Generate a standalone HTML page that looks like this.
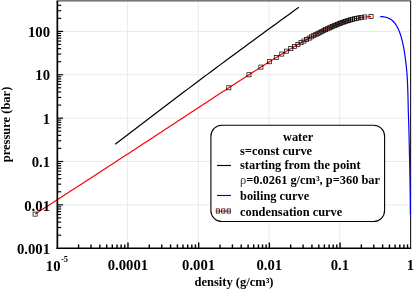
<!DOCTYPE html>
<html><head><meta charset="utf-8"><title>water</title>
<style>
html,body{margin:0;padding:0;background:#fff;}
body{width:415px;height:289px;overflow:hidden;position:relative;font-family:"Liberation Serif",serif;}
</style></head><body>
<svg width="415" height="289" viewBox="0 0 415 289" style="position:absolute;left:0;top:0;will-change:transform">
<g stroke="#eaeaea" stroke-width="1"><line x1="127.59" y1="1.00" x2="127.59" y2="248.20"/><line x1="198.28" y1="1.00" x2="198.28" y2="248.20"/><line x1="268.97" y1="1.00" x2="268.97" y2="248.20"/><line x1="339.66" y1="1.00" x2="339.66" y2="248.20"/><line x1="57.30" y1="204.84" x2="410.60" y2="204.84"/><line x1="57.30" y1="161.48" x2="410.60" y2="161.48"/><line x1="57.30" y1="118.12" x2="410.60" y2="118.12"/><line x1="57.30" y1="74.76" x2="410.60" y2="74.76"/><line x1="57.30" y1="31.40" x2="410.60" y2="31.40"/></g>
<rect x="56.5" y="0" width="354.6" height="1.6" fill="#777"/>
<g id="curves">
<path d="M115.20 144.30 L119.79 140.76 L124.38 137.23 L128.97 133.70 L133.56 130.18 L138.15 126.67 L142.74 123.16 L147.33 119.66 L151.92 116.16 L156.52 112.67 L161.11 109.18 L165.70 105.70 L170.29 102.23 L174.88 98.76 L179.47 95.30 L184.06 91.84 L188.65 88.39 L193.24 84.94 L197.83 81.50 L202.42 78.07 L207.01 74.64 L211.60 71.22 L216.19 67.80 L220.78 64.39 L225.37 60.98 L229.96 57.58 L234.55 54.19 L239.15 50.80 L243.74 47.42 L248.33 44.04 L252.92 40.67 L257.51 37.31 L262.10 33.95 L266.69 30.59 L271.28 27.25 L275.87 23.90 L280.46 20.57 L285.05 17.24 L289.64 13.91 L294.23 10.59 L298.82 7.28" fill="none" stroke="#000" stroke-width="1.2"/>
<path d="M35.11 214.10 L39.04 211.56 L42.91 209.06 L46.71 206.60 L50.46 204.18 L54.15 201.79 L57.79 199.44 L61.37 197.12 L64.89 194.84 L68.37 192.59 L71.79 190.37 L75.16 188.18 L78.48 186.03 L81.76 183.90 L84.98 181.81 L88.16 179.74 L91.29 177.71 L94.38 175.70 L97.42 173.72 L100.43 171.77 L103.38 169.84 L106.30 167.95 L109.18 166.07 L112.02 164.22 L114.81 162.40 L117.57 160.60 L120.30 158.83 L122.98 157.07 L125.63 155.34 L128.24 153.64 L130.82 151.95 L133.37 150.29 L135.88 148.65 L138.36 147.03 L140.81 145.43 L143.22 143.85 L145.61 142.29 L147.96 140.75 L150.28 139.23 L152.58 137.73 L154.84 136.24 L157.08 134.78 L159.29 133.33 L161.47 131.90 L163.63 130.49 L165.76 129.09 L167.86 127.71 L169.94 126.35 L172.00 125.00 L174.03 123.67 L176.03 122.36 L178.02 121.06 L179.98 119.77 L181.91 118.50 L183.83 117.25 L185.72 116.00 L187.59 114.78 L189.44 113.56 L191.27 112.36 L193.08 111.18 L194.87 110.00 L196.64 108.84 L198.39 107.69 L200.13 106.56 L201.84 105.44 L203.54 104.33 L205.21 103.23 L206.87 102.14 L208.52 101.06 L210.14 100.00 L211.75 98.95 L213.35 97.90 L214.92 96.87 L216.48 95.85 L218.03 94.84 L219.56 93.84 L221.08 92.85 L222.58 91.87 L224.06 90.90 L225.54 89.94 L227.00 88.99 L228.44 88.05 L229.87 87.12 L231.29 86.20 L232.70 85.28 L234.09 84.38 L235.47 83.48 L236.84 82.59 L238.19 81.72 L239.54 80.84 L240.87 79.98 L242.19 79.13 L243.50 78.28 L244.80 77.44 L246.09 76.61 L247.37 75.79 L248.63 74.97 L249.89 74.17 L251.14 73.37 L252.38 72.57 L253.60 71.79 L254.82 71.01 L256.03 70.23 L257.23 69.47 L258.42 68.71 L259.60 67.96 L260.78 67.21 L261.94 66.47 L263.10 65.74 L264.25 65.01 L265.39 64.29 L266.52 63.58 L267.65 62.87 L268.77 62.17 L269.88 61.47 L270.98 60.78 L272.08 60.09 L273.17 59.41 L274.25 58.74 L275.33 58.07 L276.40 57.41 L277.46 56.75 L278.52 56.10 L279.57 55.45 L280.62 54.81 L281.66 54.17 L282.70 53.54 L283.73 52.91 L284.75 52.28 L285.77 51.67 L286.79 51.05 L287.80 50.44 L288.80 49.84 L289.81 49.24 L290.80 48.64 L291.80 48.05 L292.79 47.47 L293.77 46.88 L294.75 46.31 L295.73 45.73 L296.71 45.16 L297.68 44.60 L298.65 44.03 L299.62 43.48 L300.58 42.92 L301.54 42.37 L302.50 41.82 L303.46 41.28 L304.41 40.74 L305.37 40.21 L306.32 39.68 L307.27 39.15 L308.22 38.62 L309.17 38.10 L310.12 37.58 L311.07 37.07 L312.01 36.56 L312.96 36.05 L313.91 35.54 L314.86 35.04 L315.81 34.54 L316.76 34.05 L317.71 33.55 L318.67 33.06 L319.62 32.58 L320.58 32.09 L321.54 31.61 L322.51 31.13 L323.48 30.66 L324.45 30.18 L325.43 29.71 L326.41 29.24 L327.40 28.78 L328.40 28.32 L329.40 27.86 L330.41 27.40 L331.43 26.94 L332.46 26.49 L333.50 26.04 L334.55 25.59 L335.62 25.14 L336.69 24.70 L337.79 24.26 L338.90 23.81 L340.04 23.38 L341.19 22.94 L342.37 22.50 L343.58 22.07 L344.82 21.64 L346.10 21.21 L347.42 20.78 L348.80 20.35 L350.23 19.93 L351.74 19.51 L353.35 19.08 L355.07 18.66 L356.96 18.24 L359.09 17.82 L361.59 17.40 L364.82 16.98 L371.05 16.55" fill="none" stroke="#f00" stroke-width="1.2"/>
<g fill="none" stroke="#000" stroke-width="0.7"><rect x="33.06" y="212.05" width="4.1" height="4.1"/><rect x="226.76" y="85.76" width="4.1" height="4.1"/><rect x="246.92" y="72.71" width="4.1" height="4.1"/><rect x="258.86" y="65.07" width="4.1" height="4.1"/><rect x="267.45" y="59.66" width="4.1" height="4.1"/><rect x="274.19" y="55.46" width="4.1" height="4.1"/><rect x="279.77" y="52.02" width="4.1" height="4.1"/><rect x="284.54" y="49.12" width="4.1" height="4.1"/><rect x="288.74" y="46.60" width="4.1" height="4.1"/><rect x="292.48" y="44.39" width="4.1" height="4.1"/><rect x="295.88" y="42.40" width="4.1" height="4.1"/><rect x="298.99" y="40.61" width="4.1" height="4.1"/><rect x="301.87" y="38.97" width="4.1" height="4.1"/><rect x="304.56" y="37.46" width="4.1" height="4.1"/><rect x="307.09" y="36.07" width="4.1" height="4.1"/><rect x="309.48" y="34.77" width="4.1" height="4.1"/><rect x="311.75" y="33.55" width="4.1" height="4.1"/><rect x="313.91" y="32.41" width="4.1" height="4.1"/><rect x="315.99" y="31.33" width="4.1" height="4.1"/><rect x="317.99" y="30.32" width="4.1" height="4.1"/><rect x="319.92" y="29.35" width="4.1" height="4.1"/><rect x="321.79" y="28.43" width="4.1" height="4.1"/><rect x="323.60" y="27.56" width="4.1" height="4.1"/><rect x="325.38" y="26.72" width="4.1" height="4.1"/><rect x="327.11" y="25.92" width="4.1" height="4.1"/><rect x="328.81" y="25.15" width="4.1" height="4.1"/><rect x="330.48" y="24.41" width="4.1" height="4.1"/><rect x="332.13" y="23.70" width="4.1" height="4.1"/><rect x="333.75" y="23.01" width="4.1" height="4.1"/><rect x="335.37" y="22.35" width="4.1" height="4.1"/><rect x="336.98" y="21.71" width="4.1" height="4.1"/><rect x="338.59" y="21.10" width="4.1" height="4.1"/><rect x="340.20" y="20.50" width="4.1" height="4.1"/><rect x="341.82" y="19.92" width="4.1" height="4.1"/><rect x="343.46" y="19.36" width="4.1" height="4.1"/><rect x="345.12" y="18.81" width="4.1" height="4.1"/><rect x="346.82" y="18.28" width="4.1" height="4.1"/><rect x="348.58" y="17.77" width="4.1" height="4.1"/><rect x="350.41" y="17.26" width="4.1" height="4.1"/><rect x="352.34" y="16.77" width="4.1" height="4.1"/><rect x="354.40" y="16.30" width="4.1" height="4.1"/><rect x="356.69" y="15.83" width="4.1" height="4.1"/><rect x="359.33" y="15.38" width="4.1" height="4.1"/><rect x="362.68" y="14.94" width="4.1" height="4.1"/><rect x="369.00" y="14.50" width="4.1" height="4.1"/></g>
</g>
<g stroke="#000" fill="none">
<line x1="57.35" y1="1" x2="57.35" y2="249" stroke-width="1.7"/>
<line x1="56.5" y1="248.2" x2="411.1" y2="248.2" stroke-width="1.6"/>
<line x1="410.65" y1="1" x2="410.65" y2="249" stroke-width="1"/>
<g stroke-width="1.4"><line x1="78.58" y1="248.20" x2="78.58" y2="244.40"/><line x1="91.03" y1="248.20" x2="91.03" y2="244.40"/><line x1="99.86" y1="248.20" x2="99.86" y2="244.40"/><line x1="106.71" y1="248.20" x2="106.71" y2="244.40"/><line x1="112.31" y1="248.20" x2="112.31" y2="244.40"/><line x1="117.04" y1="248.20" x2="117.04" y2="244.40"/><line x1="121.14" y1="248.20" x2="121.14" y2="244.40"/><line x1="124.76" y1="248.20" x2="124.76" y2="244.40"/><line x1="127.99" y1="248.20" x2="127.99" y2="242.50"/><line x1="149.27" y1="248.20" x2="149.27" y2="244.40"/><line x1="161.72" y1="248.20" x2="161.72" y2="244.40"/><line x1="170.55" y1="248.20" x2="170.55" y2="244.40"/><line x1="177.40" y1="248.20" x2="177.40" y2="244.40"/><line x1="183.00" y1="248.20" x2="183.00" y2="244.40"/><line x1="187.73" y1="248.20" x2="187.73" y2="244.40"/><line x1="191.83" y1="248.20" x2="191.83" y2="244.40"/><line x1="195.45" y1="248.20" x2="195.45" y2="244.40"/><line x1="198.68" y1="248.20" x2="198.68" y2="242.50"/><line x1="219.96" y1="248.20" x2="219.96" y2="244.40"/><line x1="232.41" y1="248.20" x2="232.41" y2="244.40"/><line x1="241.24" y1="248.20" x2="241.24" y2="244.40"/><line x1="248.09" y1="248.20" x2="248.09" y2="244.40"/><line x1="253.69" y1="248.20" x2="253.69" y2="244.40"/><line x1="258.42" y1="248.20" x2="258.42" y2="244.40"/><line x1="262.52" y1="248.20" x2="262.52" y2="244.40"/><line x1="266.14" y1="248.20" x2="266.14" y2="244.40"/><line x1="269.37" y1="248.20" x2="269.37" y2="242.50"/><line x1="290.65" y1="248.20" x2="290.65" y2="244.40"/><line x1="303.10" y1="248.20" x2="303.10" y2="244.40"/><line x1="311.93" y1="248.20" x2="311.93" y2="244.40"/><line x1="318.78" y1="248.20" x2="318.78" y2="244.40"/><line x1="324.38" y1="248.20" x2="324.38" y2="244.40"/><line x1="329.11" y1="248.20" x2="329.11" y2="244.40"/><line x1="333.21" y1="248.20" x2="333.21" y2="244.40"/><line x1="336.83" y1="248.20" x2="336.83" y2="244.40"/><line x1="340.06" y1="248.20" x2="340.06" y2="242.50"/><line x1="361.34" y1="248.20" x2="361.34" y2="244.40"/><line x1="373.79" y1="248.20" x2="373.79" y2="244.40"/><line x1="382.62" y1="248.20" x2="382.62" y2="244.40"/><line x1="389.47" y1="248.20" x2="389.47" y2="244.40"/><line x1="395.07" y1="248.20" x2="395.07" y2="244.40"/><line x1="399.80" y1="248.20" x2="399.80" y2="244.40"/><line x1="403.90" y1="248.20" x2="403.90" y2="244.40"/><line x1="407.52" y1="248.20" x2="407.52" y2="244.40"/><line stroke-width="1.15" x1="57.30" y1="235.15" x2="61.20" y2="235.15"/><line stroke-width="1.15" x1="57.30" y1="227.51" x2="61.20" y2="227.51"/><line stroke-width="1.15" x1="57.30" y1="222.09" x2="61.20" y2="222.09"/><line stroke-width="1.15" x1="57.30" y1="217.89" x2="61.20" y2="217.89"/><line stroke-width="1.15" x1="57.30" y1="214.46" x2="61.20" y2="214.46"/><line stroke-width="1.15" x1="57.30" y1="211.56" x2="61.20" y2="211.56"/><line stroke-width="1.15" x1="57.30" y1="209.04" x2="61.20" y2="209.04"/><line stroke-width="1.15" x1="57.30" y1="206.82" x2="61.20" y2="206.82"/><line stroke-width="1.15" x1="57.30" y1="204.84" x2="63.10" y2="204.84"/><line stroke-width="1.15" x1="57.30" y1="191.79" x2="61.20" y2="191.79"/><line stroke-width="1.15" x1="57.30" y1="184.15" x2="61.20" y2="184.15"/><line stroke-width="1.15" x1="57.30" y1="178.73" x2="61.20" y2="178.73"/><line stroke-width="1.15" x1="57.30" y1="174.53" x2="61.20" y2="174.53"/><line stroke-width="1.15" x1="57.30" y1="171.10" x2="61.20" y2="171.10"/><line stroke-width="1.15" x1="57.30" y1="168.20" x2="61.20" y2="168.20"/><line stroke-width="1.15" x1="57.30" y1="165.68" x2="61.20" y2="165.68"/><line stroke-width="1.15" x1="57.30" y1="163.46" x2="61.20" y2="163.46"/><line stroke-width="1.15" x1="57.30" y1="161.48" x2="63.10" y2="161.48"/><line stroke-width="1.15" x1="57.30" y1="148.43" x2="61.20" y2="148.43"/><line stroke-width="1.15" x1="57.30" y1="140.79" x2="61.20" y2="140.79"/><line stroke-width="1.15" x1="57.30" y1="135.37" x2="61.20" y2="135.37"/><line stroke-width="1.15" x1="57.30" y1="131.17" x2="61.20" y2="131.17"/><line stroke-width="1.15" x1="57.30" y1="127.74" x2="61.20" y2="127.74"/><line stroke-width="1.15" x1="57.30" y1="124.84" x2="61.20" y2="124.84"/><line stroke-width="1.15" x1="57.30" y1="122.32" x2="61.20" y2="122.32"/><line stroke-width="1.15" x1="57.30" y1="120.10" x2="61.20" y2="120.10"/><line stroke-width="1.15" x1="57.30" y1="118.12" x2="63.10" y2="118.12"/><line stroke-width="1.15" x1="57.30" y1="105.07" x2="61.20" y2="105.07"/><line stroke-width="1.15" x1="57.30" y1="97.43" x2="61.20" y2="97.43"/><line stroke-width="1.15" x1="57.30" y1="92.01" x2="61.20" y2="92.01"/><line stroke-width="1.15" x1="57.30" y1="87.81" x2="61.20" y2="87.81"/><line stroke-width="1.15" x1="57.30" y1="84.38" x2="61.20" y2="84.38"/><line stroke-width="1.15" x1="57.30" y1="81.48" x2="61.20" y2="81.48"/><line stroke-width="1.15" x1="57.30" y1="78.96" x2="61.20" y2="78.96"/><line stroke-width="1.15" x1="57.30" y1="76.74" x2="61.20" y2="76.74"/><line stroke-width="1.15" x1="57.30" y1="74.76" x2="63.10" y2="74.76"/><line stroke-width="1.15" x1="57.30" y1="61.71" x2="61.20" y2="61.71"/><line stroke-width="1.15" x1="57.30" y1="54.07" x2="61.20" y2="54.07"/><line stroke-width="1.15" x1="57.30" y1="48.65" x2="61.20" y2="48.65"/><line stroke-width="1.15" x1="57.30" y1="44.45" x2="61.20" y2="44.45"/><line stroke-width="1.15" x1="57.30" y1="41.02" x2="61.20" y2="41.02"/><line stroke-width="1.15" x1="57.30" y1="38.12" x2="61.20" y2="38.12"/><line stroke-width="1.15" x1="57.30" y1="35.60" x2="61.20" y2="35.60"/><line stroke-width="1.15" x1="57.30" y1="33.38" x2="61.20" y2="33.38"/><line stroke-width="1.15" x1="57.30" y1="31.40" x2="63.10" y2="31.40"/><line stroke-width="1.15" x1="57.30" y1="18.35" x2="61.20" y2="18.35"/><line stroke-width="1.15" x1="57.30" y1="10.71" x2="61.20" y2="10.71"/><line stroke-width="1.15" x1="57.30" y1="5.29" x2="61.20" y2="5.29"/></g>
</g>
<path d="M380.22 16.55 L380.87 16.58 L381.72 16.64 L382.53 16.71 L383.27 16.79 L383.94 16.89 L384.57 16.99 L385.14 17.11 L385.68 17.23 L386.19 17.36 L386.67 17.50 L387.13 17.64 L387.56 17.79 L387.98 17.95 L388.38 18.11 L388.76 18.28 L389.13 18.46 L389.48 18.64 L389.83 18.83 L390.16 19.02 L390.48 19.22 L390.80 19.42 L391.10 19.63 L391.40 19.84 L391.69 20.06 L391.97 20.29 L392.25 20.51 L392.52 20.75 L392.78 20.99 L393.04 21.23 L393.29 21.48 L393.54 21.73 L393.78 21.99 L394.02 22.25 L394.25 22.51 L394.48 22.78 L394.70 23.06 L394.92 23.34 L395.14 23.62 L395.35 23.91 L395.56 24.21 L395.77 24.50 L395.97 24.81 L396.17 25.12 L396.36 25.43 L396.56 25.74 L396.75 26.07 L396.94 26.39 L397.12 26.72 L397.30 27.06 L397.48 27.40 L397.66 27.74 L397.84 28.09 L398.01 28.45 L398.18 28.81 L398.35 29.17 L398.52 29.54 L398.68 29.91 L398.84 30.29 L399.01 30.68 L399.16 31.07 L399.32 31.46 L399.48 31.86 L399.63 32.26 L399.78 32.67 L399.93 33.09 L400.08 33.51 L400.22 33.94 L400.37 34.37 L400.51 34.80 L400.65 35.25 L400.80 35.70 L400.93 36.15 L401.07 36.61 L401.21 37.07 L401.34 37.54 L401.48 38.02 L401.61 38.51 L401.74 38.99 L401.87 39.49 L402.00 39.99 L402.12 40.50 L402.25 41.01 L402.37 41.54 L402.50 42.06 L402.62 42.60 L402.74 43.14 L402.86 43.69 L402.98 44.24 L403.10 44.81 L403.21 45.37 L403.33 45.95 L403.44 46.54 L403.56 47.13 L403.67 47.73 L403.78 48.33 L403.89 48.95 L404.00 49.57 L404.11 50.20 L404.22 50.84 L404.33 51.49 L404.43 52.14 L404.54 52.81 L404.64 53.48 L404.74 54.17 L404.85 54.86 L404.95 55.56 L405.05 56.27 L405.15 56.99 L405.25 57.72 L405.35 58.46 L405.44 59.21 L405.54 59.97 L405.64 60.74 L405.73 61.52 L405.83 62.31 L405.92 63.11 L406.01 63.92 L406.10 64.75 L406.19 65.59 L406.28 66.44 L406.37 67.30 L406.46 68.17 L406.55 69.06 L406.64 69.96 L406.73 70.87 L406.81 71.79 L406.90 72.73 L406.98 73.69 L407.06 74.65 L407.13 75.63 L407.19 76.63 L407.24 77.64 L407.30 78.67 L407.35 79.71 L407.40 80.77 L407.45 81.85 L407.50 82.94 L407.55 84.05 L407.60 85.17 L407.65 86.32 L407.69 87.48 L407.73 88.66 L407.78 89.86 L407.82 91.08 L407.86 92.32 L407.90 93.59 L407.94 94.87 L407.97 96.17 L408.01 97.50 L408.04 98.84 L408.07 100.22 L408.10 101.61 L408.13 103.03 L408.16 104.47 L408.19 105.94 L408.21 107.44 L408.24 108.96 L408.27 110.51 L408.33 112.09 L408.40 113.69 L408.46 115.33 L408.51 117.00 L408.57 118.69 L408.63 120.42 L408.69 122.19 L408.74 123.98 L408.80 125.81 L408.85 127.68 L408.90 129.58 L408.95 131.52 L409.00 133.50 L409.05 135.52 L409.10 137.58 L409.15 139.68 L409.20 141.82 L409.24 144.01 L409.29 146.25 L409.33 148.53 L409.38 150.86 L409.44 153.24 L409.50 155.67 L409.56 158.15 L409.62 160.69 L409.67 163.28 L409.73 165.94 L409.79 168.65 L409.84 171.42 L409.89 174.26 L409.94 177.16 L409.99 180.13 L410.04 183.17 L410.09 186.29 L410.14 189.47 L410.18 192.74 L410.22 196.08 L410.26 199.51 L410.30 203.02 L410.33 206.62 L410.37 210.31 L410.39 214.50" fill="none" stroke="#00f" stroke-width="1.2"/>
<rect x="210.9" y="125.2" width="173.7" height="96.3" rx="11" ry="11" fill="#fff" stroke="#000" stroke-width="1.1"/>
<line x1="217" y1="165.5" x2="231" y2="165.5" stroke="#000" stroke-width="1.15"/>
<line x1="217" y1="195.5" x2="231" y2="195.5" stroke="#00f" stroke-width="1.15"/>
<line x1="216.4" y1="211.1" x2="230.8" y2="211.1" stroke="#f00" stroke-width="1.1"/>
<g fill="none" stroke="#000" stroke-width="0.7"><rect x="216.20" y="208.9" width="3.2" height="4.2"/><rect x="221.70" y="208.9" width="3.2" height="4.2"/><rect x="227.10" y="208.9" width="3.2" height="4.2"/></g>
<g font-family="Liberation Serif, serif" font-weight="bold" fill="#000"><text transform="translate(50.0,37.10) scale(0.955,1)" text-anchor="end" font-size="15.4">100</text>
<text transform="translate(50.0,80.46) scale(0.955,1)" text-anchor="end" font-size="15.4">10</text>
<text transform="translate(50.0,123.82) scale(0.955,1)" text-anchor="end" font-size="15.4">1</text>
<text transform="translate(50.0,167.18) scale(0.955,1)" text-anchor="end" font-size="15.4">0.1</text>
<text transform="translate(50.0,210.54) scale(0.955,1)" text-anchor="end" font-size="15.4">0.01</text>
<text transform="translate(50.0,253.90) scale(0.955,1)" text-anchor="end" font-size="15.4">0.001</text>
<text transform="translate(127.95,269.5) scale(0.955,1)" text-anchor="middle" font-size="15.4">0.0001</text>
<text transform="translate(198.60,269.5) scale(0.955,1)" text-anchor="middle" font-size="15.4">0.001</text>
<text transform="translate(269.25,269.5) scale(0.955,1)" text-anchor="middle" font-size="15.4">0.01</text>
<text transform="translate(339.90,269.5) scale(0.955,1)" text-anchor="middle" font-size="15.4">0.1</text>
<text transform="translate(410.55,269.5) scale(0.955,1)" text-anchor="middle" font-size="15.4">1</text>
<text transform="translate(45.8,271.0) scale(0.955,1)" font-size="15.4">10<tspan dy="-8.6" dx="0.5" font-size="8.8">-5</tspan></text>
<text x="234" y="285.5" text-anchor="middle" font-size="12.5">density (g/cm³)</text>
<text transform="translate(10,124.5) rotate(-90)" text-anchor="middle" font-size="12.5">pressure (bar)</text>
<text x="298.1" y="141.0" text-anchor="middle" font-size="12.4">water</text>
<text x="240" y="154.6" font-size="12.4">s=const curve</text>
<text x="240" y="169.0" font-size="12.4">starting from the point</text>
<text x="240" y="184.2" font-size="12.4"><tspan font-weight="normal" fill="#333">ρ</tspan>=0.0261 g/cm³, p=360 bar</text>
<text x="240" y="199.5" font-size="12.4">boiling curve</text>
<text x="240" y="215.7" font-size="12.4">condensation curve</text></g>
</svg>
</body></html>
